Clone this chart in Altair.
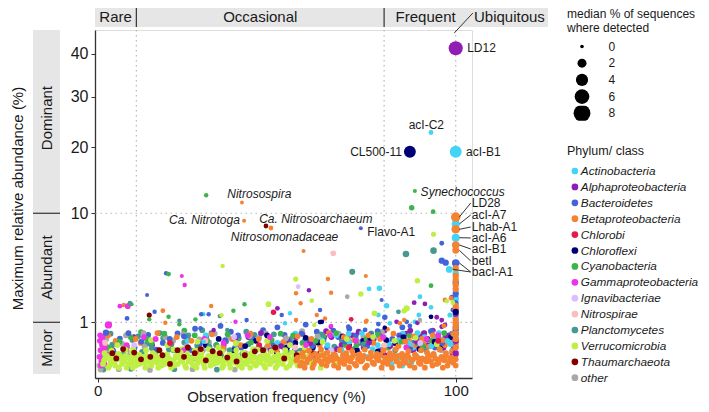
import altair as alt
import pandas as pd

FONT = "Liberation Sans"

PHYLA = ["Actinobacteria", "Alphaproteobacteria", "Bacteroidetes", "Betaproteobacteria",
         "Chlorobi", "Chloroflexi", "Cyanobacteria", "Gammaproteobacteria", "Ignavibacteriae",
         "Nitrospirae", "Planctomycetes", "Verrucomicrobia", "Thaumarchaeota", "other"]
COLORS = ["#42d4f4", "#911eb4", "#4363d8", "#f58231", "#e6194b", "#000075", "#3cb44b",
          "#f032e6", "#dcbeff", "#fabebe", "#469990", "#bfef45", "#800000", "#a9a9a9"]

# ---- individually read points: (observation frequency %, max rel. abundance %, median % seqs)
ACTINO_PTS = [(93.1, 22.7, 0.3), (100, 19.2, 3.8), (100, 8.7, 1.5), (100, 7.17, 1.5), (98.2, 4.2, 1.0),
              (75.8, 2.76, 0.3), (78.7, 2.8, 0.5), (90.0, 2.27, 0.3), (80.7, 1.77, 0.5), (93.1, 1.68, 0.3),
              (88.6, 1.02, 0.3), (78.4, 1.31, 0.3), (89.7, 1.31, 0.3), (98.4, 1.31, 0.4), (81.6, 0.96, 0.3),
              (52.3, 0.96, 0.2), (53.7, 1.39, 0.2), (29.5, 1.35, 0.2), (97.7, 0.4, 0.5), (29.6, 0.38, 0.2),
              (100, 2.1, 0.8), (100, 1.2, 0.8), (100, 0.55, 0.8), (100, 3.9, 0.8), (100, 2.6, 0.6)]
ALPHA_PTS = [(100, 41.4, 5.5), (59.0, 2.67, 0.2), (50.2, 1.63, 0.3), (88.4, 1.93, 0.3), (91.4, 1.86, 0.3),
             (94.7, 1.21, 0.3), (96.1, 1.09, 0.3), (89.3, 0.98, 0.3), (83.5, 1.02, 0.3), (96.1, 0.83, 0.3),
             (65.1, 0.83, 0.2), (97.0, 0.9, 0.3), (32.4, 0.72, 0.2), (100, 0.4, 0.8), (100, 0.15, 0.8),
             (100, 1.35, 0.6), (100, 0.85, 0.6)]
BACTERO_PTS = [(73.5, 8.2, 0.1), (96.1, 4.94, 0.8), (97.2, 4.76, 0.8), (100, 4.74, 1.3), (96.1, 6.59, 0.3),
               (13.8, 2.38, 0.1), (19.1, 3.89, 0.2), (2.3, 0.63, 0.8), (8.2, 1.16, 0.3), (15.9, 1.46, 0.2),
               (28.9, 1.34, 0.2), (31.0, 1.34, 0.2), (28.7, 0.78, 0.2), (51.4, 1.31, 0.2), (62.1, 1.55, 0.2),
               (41.6, 1.09, 0.2), (79.3, 2.08, 0.1), (80.2, 1.21, 0.5), (86.3, 1.02, 0.3), (87.2, 0.86, 0.3),
               (78.4, 0.93, 0.3), (74.7, 0.72, 0.3), (70.0, 0.83, 0.3), (98.9, 2.24, 0.3), (99.2, 1.55, 0.3),
               (100, 2.45, 0.8), (100, 0.75, 0.8), (100, 3.2, 0.8), (100, 1.9, 0.6)]
BETA_PTS = [(40.3, 11.4, 0.05), (40.9, 9.09, 0.1), (48.4, 8.24, 0.3), (100, 9.53, 2.3), (100, 8.09, 1.8),
            (100, 6.42, 1.3), (100, 5.9, 1.0), (100, 3.68, 0.8), (100, 3.38, 0.8), (100, 3.03, 0.8),
            (100, 2.75, 0.8), (100, 1.75, 0.8), (100, 0.95, 0.8), (100, 0.25, 0.8), (57.5, 5.83, 0.1),
            (64.3, 3.45, 0.2), (74.9, 3.68, 0.1), (7.3, 1.8, 0.2), (18.2, 1.51, 0.3), (18.9, 0.98, 0.2),
            (31.7, 1.75, 0.2), (55.4, 2.48, 0.2), (56.7, 1.9, 0.2), (65.2, 2.52, 0.2), (61.2, 1.31, 0.2),
            (63.5, 1.16, 0.2), (55.4, 1.09, 0.2), (85.6, 1.09, 0.2), (74.9, 1.02, 0.2), (84.4, 0.96, 0.2),
            (81.0, 0.74, 0.2), (75.1, 1.06, 0.2), (97.0, 2.08, 0.3), (98.7, 2.18, 0.3), (96.7, 0.86, 0.3),
            (100, 4.3, 0.8), (100, 1.55, 0.8), (100, 1.1, 0.8), (100, 0.8, 0.8), (100, 0.6, 0.8),
            (100, 0.45, 0.8)]
CHLOROBI_PTS = [(49.1, 1.44, 0.5), (70.8, 1.12, 0.3)]
CHLOROFLEXI_PTS = [(87.2, 19.2, 3.8), (62.1, 1.01, 0.3), (62.6, 1.02, 0.3), (93.1, 1.23, 0.3),
                   (80.2, 0.8, 0.2), (100, 1.45, 0.8)]
CYANO_PTS = [(88.6, 13.0, 0.1), (30.3, 12.4, 0.2), (87.7, 10.7, 0.5), (93.7, 10.2, 0.3), (93.1, 2.98, 0.3),
             (19.8, 3.83, 0.3), (9.4, 1.85, 0.2), (14.4, 1.12, 0.2), (19.8, 1.23, 0.2), (22.8, 0.92, 0.2),
             (27.3, 1.12, 0.2), (41.0, 1.84, 0.2), (37.9, 1.51, 0.2)]
GAMMA_PTS = [(24.3, 3.03, 0.2), (23.5, 3.68, 0.1), (6.2, 1.74, 0.3), (8.4, 1.74, 0.6), (3.0, 0.9, 1.2),
             (38.5, 1.02, 0.2), (65.2, 0.86, 0.2)]
IGNAVI_PTS = [(56.0, 2.91, 0.3)]
NITROSPIRAE_PTS = [(65.8, 5.61, 0.6)]
PLANCTO_PTS = [(71.1, 4.0, 0.7), (86.1, 5.55, 0.9), (93.8, 5.86, 0.9), (34.1, 1.26, 0.2), (22.8, 1.06, 0.2),
               (84.0, 1.46, 0.3), (9.0, 1.9, 0.3), (36.2, 0.72, 0.2)]
VERRU_PTS = [(34.9, 4.48, 0.2), (55.3, 3.45, 0.4), (47.7, 1.85, 0.6), (59.8, 2.04, 0.3), (73.5, 2.44, 0.5),
             (89.3, 3.33, 0.5), (93.8, 7.54, 0.4), (86.3, 1.63, 0.8), (85.6, 1.51, 0.5), (77.3, 1.39, 0.6),
             (97.5, 2.02, 0.3), (99.2, 1.93, 0.3), (60.5, 0.9, 0.2), (34.6, 1.3, 0.2)]
THAUM_PTS = [(47.0, 8.47, 0.3), (14.4, 1.31, 0.4)]
OTHER_PTS = [(69.7, 2.27, 0.3), (90.0, 1.09, 0.2)]

# ---- the dense low-abundance band: (observation frequency %, max rel. abundance %)
BAND_SIZE = 0.6
TEAL_BAND = [(1.2, 0.05), (2.7, 0.16), (4.1, 0.31), (6.3, 0.09), (8.2, 0.26), (9.7, 0.42), (12.4, 0.17),
             (13.8, 0.33), (16.1, 0.12), (18.3, 0.47), (19.9, 0.21), (22.6, 0.14), (24.2, 0.36), (26.4, 0.09),
             (27.8, 0.29), (30.3, 0.52), (32.1, 0.19), (34.5, 0.11), (35.9, 0.39), (38.2, 0.24), (40.4, 0.14),
             (42.1, 0.32), (43.8, 0.56), (46.3, 0.17), (48.1, 0.36), (50.5, 0.11), (51.9, 0.26), (54.2, 0.46),
             (56.6, 0.19), (60.3, 0.31), (63.7, 0.14), (68.2, 0.41), (71.8, 0.23), (76.4, 0.61), (80.1, 0.29),
             (85.7, 0.44), (91.6, 0.21), (17.3, 0.62), (29.2, 0.71), (41.5, 0.66), (1.6, 0.004), (9.3, 0.006),
             (21.4, 0.005), (33.3, 0.004)]
TEAL_BAND_2 = [(3.6, 0.6), (7.2, 0.14), (11.3, 0.52), (15.1, 0.24), (20.6, 0.32), (25.3, 0.55), (31.2, 0.27),
               (36.9, 0.2), (39.4, 0.47), (45.1, 0.28), (49.2, 0.58), (53.3, 0.16), (57.9, 0.42), (62.4, 0.58),
               (66.1, 0.27), (74.3, 0.32), (83.1, 0.2), (89.4, 0.35), (95.2, 0.48)]
GREY_BAND = [(0.5, 0.02), (1.6, 0.12), (3.1, 0.21), (5.2, 0.08), (6.8, 0.33), (9.1, 0.15), (11.2, 0.05),
             (13.1, 0.26), (15.3, 0.1), (16.8, 0.2), (19.2, 0.06), (21.1, 0.41), (23.3, 0.12), (24.8, 0.28),
             (27.1, 0.08), (29.4, 0.2), (31.1, 0.36), (33.2, 0.1), (35.3, 0.22), (37.1, 0.05), (38.9, 0.31),
             (41.2, 0.15), (43.1, 0.4), (45.3, 0.1), (47.2, 0.25), (49.1, 0.06), (51.2, 0.33), (53.1, 0.15),
             (55.2, 0.45), (58.3, 0.1), (62.1, 0.35), (66.2, 0.08), (70.1, 0.3), (74.2, 0.5), (78.1, 0.15),
             (84.2, 0.4), (90.1, 0.55), (96.1, 0.2), (0.8, 0.004), (5.9, 0.005), (14.6, 0.003), (26.5, 0.005),
             (38.3, 0.004)]
GREY_BAND_2 = [(2.4, 0.45), (7.9, 0.55), (12.8, 0.62), (18.9, 0.5), (23.9, 0.58), (28.4, 0.44), (32.7, 0.6),
               (36.6, 0.48), (42.5, 0.53), (46.9, 0.62), (52.6, 0.47), (57.1, 0.68), (61.4, 0.52), (67.3, 0.6),
               (72.6, 0.38), (79.4, 0.65), (87.6, 0.3), (93.4, 0.62), (98.3, 0.38)]
BLUE_BAND = [(2.1, 0.3), (6.2, 0.46), (10.3, 0.25), (14.1, 0.56), (18.2, 0.35), (22.3, 0.61), (25.9, 0.2),
             (30.2, 0.5), (33.1, 0.3), (37.2, 0.66), (40.1, 0.25), (43.3, 0.45), (46.2, 0.71), (49.1, 0.3),
             (52.2, 0.56), (55.1, 0.2), (58.3, 0.41), (61.2, 0.66), (64.1, 0.25), (67.2, 0.5), (70.3, 0.76),
             (73.1, 0.35), (76.2, 0.56), (79.1, 0.2), (82.3, 0.45), (85.1, 0.81), (88.2, 0.35), (91.1, 0.61),
             (94.2, 0.25), (97.1, 0.5), (100, 0.82), (100, 1.62), (100, 2.2), (27.2, 0.76), (34.3, 0.86),
             (50.2, 0.81), (58.1, 0.91)]
BLUE_BAND_2 = [(4.4, 0.18), (8.6, 0.62), (12.2, 0.38), (16.4, 0.21), (20.1, 0.45), (24.1, 0.52), (28.6, 0.33),
               (31.8, 0.62), (35.6, 0.42), (39.2, 0.55), (44.6, 0.22), (47.8, 0.5), (53.9, 0.33), (56.9, 0.6),
               (59.9, 0.28), (63.1, 0.42), (65.8, 0.7), (69.2, 0.38), (72.1, 0.55), (75.3, 0.28), (78.2, 0.68),
               (81.1, 0.35), (84.2, 0.55), (87.1, 0.22), (90.2, 0.45), (93.1, 0.68), (96.2, 0.35), (99.0, 0.6)]
PURPLE_BAND = [(35.2, 0.3), (42.1, 0.5), (48.3, 0.2), (53.1, 0.4), (57.2, 0.6), (62.1, 0.15), (65.3, 0.5),
               (68.1, 0.3), (71.2, 0.55), (74.3, 0.25), (77.1, 0.45), (80.2, 0.12), (83.1, 0.35), (86.2, 0.6),
               (88.1, 0.2), (90.3, 0.5), (92.1, 0.3), (93.6, 0.7), (95.1, 0.45), (96.6, 0.25), (98.1, 0.55),
               (99.1, 0.15), (100, 0.35), (100, 0.6), (100, 1.0), (25.1, 0.45), (15.2, 0.3), (10.1, 0.5),
               (4.2, 0.2), (60.2, 0.1), (80.1, 0.7), (85.2, 0.1)]
PURPLE_BAND_2 = [(38.4, 0.42), (45.6, 0.62), (51.2, 0.28), (55.4, 0.5), (59.3, 0.35), (63.8, 0.68), (66.9, 0.22),
                 (69.8, 0.45), (72.9, 0.66), (75.8, 0.36), (78.6, 0.55), (81.7, 0.28), (84.5, 0.48), (87.3, 0.7),
                 (89.2, 0.38), (91.2, 0.62), (94.3, 0.32), (97.3, 0.45), (99.4, 0.28)]
CYAN_BAND = [(60.1, 0.05), (64.2, 0.3), (68.1, 0.2), (72.2, 0.45), (75.1, 0.1), (78.2, 0.3), (82.1, 0.03),
             (83.6, 0.06), (85.1, 0.02), (86.6, 0.05), (88.1, 0.25), (90.2, 0.4), (92.1, 0.15), (94.2, 0.5),
             (96.1, 0.3), (97.8, 0.4), (99.1, 0.2), (100, 0.45), (100, 0.9), (100, 1.3), (45.1, 0.5),
             (50.2, 0.35), (38.1, 0.2), (30.2, 0.55), (25.1, 0.4), (55.2, 0.6), (70.1, 0.6), (85.2, 0.6)]
CYAN_BAND_2 = [(62.6, 0.42), (66.6, 0.55), (70.3, 0.38), (73.8, 0.62), (76.8, 0.22), (79.9, 0.5), (81.3, 0.32),
               (84.1, 0.42), (86.9, 0.35), (89.3, 0.62), (91.3, 0.5), (93.2, 0.28), (95.3, 0.62), (98.6, 0.32),
               (87.6, 0.04), (89.8, 0.07), (84.4, 0.09)]
NAVY_BAND = [(30.2, 0.3), (38.1, 0.2), (44.2, 0.4), (50.1, 0.15), (55.2, 0.35), (60.1, 0.25), (63.2, 0.5),
             (66.1, 0.12), (70.2, 0.3), (74.1, 0.4), (78.2, 0.18), (83.1, 0.35), (87.2, 0.25), (92.1, 0.45),
             (96.2, 0.3), (100, 0.6)]
NAVY_BAND_2 = [(33.8, 0.45), (41.2, 0.28), (47.3, 0.55), (52.9, 0.25), (58.1, 0.48), (61.6, 0.36), (68.4, 0.52),
               (72.4, 0.2), (76.1, 0.48), (80.6, 0.42), (85.4, 0.5), (89.8, 0.22), (94.1, 0.38), (98.7, 0.5)]
GREEN_BAND = [(3.1, 0.25), (9.2, 0.5), (15.1, 0.35), (21.2, 0.2), (27.1, 0.55), (33.2, 0.3), (39.1, 0.45),
              (45.2, 0.25), (51.1, 0.6), (57.2, 0.35), (63.1, 0.5), (69.2, 0.3), (75.1, 0.45), (81.2, 0.25),
              (87.1, 0.55), (93.2, 0.4), (12.1, 0.65), (24.2, 0.7)]
GREEN_BAND_2 = [(6.1, 0.38), (13.7, 0.45), (18.6, 0.6), (30.6, 0.4), (36.3, 0.58), (42.8, 0.36), (48.6, 0.42),
                (54.6, 0.55), (60.9, 0.4), (66.6, 0.62), (72.3, 0.3), (78.3, 0.58), (84.9, 0.38), (90.8, 0.28),
                (96.8, 0.62)]
MAGENTA_BAND = [(0.5, 0.1), (0.8, 0.2), (1.0, 0.05), (1.2, 0.3), (0.6, 0.4), (1.5, 0.15), (0.9, 0.02),
                (2.0, 0.25), (8.1, 0.3), (16.2, 0.45), (24.1, 0.2), (35.2, 0.35), (48.1, 0.5), (58.2, 0.3),
                (72.1, 0.4), (86.2, 0.25), (95.1, 0.55), (0.7, 0.55), (1.4, 0.5), (2.6, 0.12), (1.9, 0.03),
                (12.9, 0.5), (29.8, 0.45), (41.9, 0.55), (64.9, 0.55), (79.7, 0.5), (91.9, 0.45)]
RED_BAND = [(20.2, 0.35), (45.1, 0.3), (70.2, 0.25), (95.1, 0.4)]
PINK_BAND = [(2.1, 0.35), (30.1, 0.4), (55.2, 0.25), (80.1, 0.3)]
LAVENDER_BAND = [(10.2, 0.3), (38.1, 0.5), (65.2, 0.2), (90.1, 0.35)]
ORANGE_MIXED = [(58, 0.2), (62, 0.3), (66, 0.18), (70, 0.25), (73, 0.15), (77, 0.35), (80, 0.22), (84, 0.28),
                (87, 0.4), (89, 0.3), (91, 0.33), (92.5, 0.27), (94, 0.36), (95.5, 0.22), (97, 0.3),
                (98.5, 0.45), (100, 0.3), (100, 0.5), (100, 0.7), (40, 0.3), (35, 0.25), (28, 0.18), (20, 0.3),
                (12, 0.35), (5, 0.4), (8, 0.22), (45, 0.45), (50, 0.2), (52, 0.38)]
ORANGE_MIXED_2 = [(2.9, 0.55), (10.6, 0.45), (16.7, 0.62), (22.1, 0.5), (26.2, 0.4), (31.9, 0.58), (37.6, 0.45),
                  (42.7, 0.6), (47.6, 0.3), (55.8, 0.52), (59.7, 0.45), (64.6, 0.62), (68.7, 0.5), (71.6, 0.42),
                  (75.6, 0.55), (78.9, 0.45), (82.6, 0.6), (85.9, 0.38), (88.3, 0.52), (90.6, 0.45), (93.6, 0.55),
                  (96.4, 0.42), (99.3, 0.6)]
LIME_MIXED = [(5.5, 0.3), (9.9, 0.22), (14.9, 0.42), (19.5, 0.3), (23.6, 0.22), (27.9, 0.38), (33.7, 0.25),
              (38.6, 0.35), (43.4, 0.22), (47.3, 0.4), (53.7, 0.3), (57.8, 0.25), (62.8, 0.38), (69.6, 0.45),
              (76.9, 0.5), (82.9, 0.4), (88.8, 0.48), (94.7, 0.32)]
LIME_BAND = [(1.5, 0.03), (2.2, 0.08), (3.0, 0.01), (3.6, 0.05), (4.3, 0.10), (4.9, 0.02), (5.6, 0.07),
             (6.2, 0.12), (6.8, 0.03), (7.5, 0.06), (8.1, 0.01), (8.8, 0.09), (9.4, 0.04), (10.1, 0.11),
             (10.7, 0.02), (11.4, 0.07), (12.0, 0.05), (12.7, 0.10), (13.3, 0.01), (14.0, 0.06), (14.6, 0.03),
             (15.3, 0.09), (15.9, 0.12), (16.6, 0.04), (17.2, 0.07), (17.9, 0.02), (18.5, 0.10), (19.2, 0.05),
             (19.8, 0.08), (20.5, 0.01), (21.1, 0.06), (21.8, 0.11), (22.4, 0.03), (23.1, 0.08), (23.7, 0.05),
             (24.4, 0.02), (25.0, 0.10), (25.7, 0.07), (26.3, 0.04), (27.0, 0.12), (27.6, 0.01), (28.3, 0.06),
             (28.9, 0.09), (29.6, 0.03), (30.2, 0.07), (30.9, 0.11), (31.5, 0.02), (32.2, 0.05), (32.8, 0.09),
             (33.5, 0.04), (34.1, 0.08), (34.8, 0.01), (35.4, 0.06), (36.1, 0.10), (36.7, 0.03), (37.4, 0.07),
             (38.0, 0.05), (38.7, 0.12), (39.3, 0.02), (40.0, 0.08), (40.6, 0.04), (41.3, 0.10), (41.9, 0.06),
             (42.6, 0.01), (43.2, 0.09), (43.9, 0.03), (44.5, 0.07), (45.2, 0.05), (45.8, 0.11), (46.5, 0.02),
             (47.1, 0.06), (47.8, 0.09), (48.4, 0.04), (49.1, 0.08), (49.7, 0.01), (50.4, 0.05), (51.0, 0.10),
             (51.7, 0.03), (52.3, 0.07), (53.0, 0.12), (53.6, 0.02), (54.3, 0.06), (54.9, 0.09), (55.6, 0.04),
             (56.2, 0.08), (57.5, 0.03), (58.8, 0.06), (60.1, 0.02), (61.5, 0.09), (63.0, 0.04), (65.0, 0.07)]
LIME_BAND_2 = [(1.8, 0.06), (2.6, 0.11), (3.3, 0.02), (4.0, 0.08), (4.6, 0.04), (5.3, 0.12), (5.9, 0.01),
               (6.5, 0.09), (7.2, 0.05), (7.8, 0.11), (8.5, 0.03), (9.1, 0.07), (9.8, 0.01), (10.4, 0.06),
               (11.1, 0.10), (11.7, 0.03), (12.4, 0.08), (13.0, 0.04), (13.7, 0.11), (14.3, 0.07), (15.0, 0.02),
               (15.6, 0.05), (16.3, 0.10), (16.9, 0.01), (17.6, 0.09), (18.2, 0.05), (18.9, 0.03), (19.5, 0.11),
               (20.2, 0.07), (20.8, 0.04), (21.5, 0.02), (22.1, 0.09), (22.8, 0.12), (23.4, 0.06), (24.1, 0.10),
               (24.7, 0.01), (25.4, 0.05), (26.0, 0.08), (26.7, 0.02), (27.3, 0.09), (28.0, 0.04), (28.6, 0.11),
               (29.3, 0.07), (29.9, 0.01), (30.6, 0.05), (31.2, 0.09), (31.9, 0.12), (32.5, 0.03), (33.2, 0.07),
               (33.8, 0.10), (34.5, 0.05), (35.1, 0.02), (35.8, 0.09), (36.4, 0.06), (37.1, 0.01), (37.7, 0.11),
               (38.4, 0.04), (39.0, 0.08), (39.7, 0.06), (40.3, 0.01), (41.0, 0.12), (41.6, 0.03), (42.3, 0.07),
               (42.9, 0.05), (43.6, 0.11), (44.2, 0.02), (44.9, 0.09), (45.5, 0.04), (46.2, 0.08), (46.8, 0.01),
               (47.5, 0.11), (48.1, 0.03), (48.8, 0.06), (49.4, 0.10), (50.1, 0.02), (50.7, 0.08), (51.4, 0.05),
               (52.0, 0.12), (52.7, 0.01), (53.3, 0.09), (54.0, 0.04), (54.6, 0.07), (55.3, 0.11), (55.9, 0.02),
               (56.9, 0.07), (58.2, 0.10), (59.5, 0.04), (60.8, 0.06), (62.3, 0.01), (64.0, 0.10), (66.5, 0.03)]
LIME_BAND_3 = [(1.9, 0.15), (3.9, 0.19), (5.8, 0.14), (7.7, 0.21), (9.6, 0.16), (11.6, 0.13), (13.5, 0.2),
               (15.4, 0.15), (17.4, 0.18), (19.3, 0.13), (21.2, 0.21), (23.2, 0.16), (25.1, 0.14), (27.1, 0.19),
               (29.0, 0.15), (31.0, 0.22), (32.9, 0.14), (34.8, 0.18), (36.8, 0.13), (38.7, 0.2), (40.7, 0.16),
               (42.6, 0.14), (44.6, 0.21), (46.5, 0.15), (48.5, 0.18), (50.4, 0.13), (52.4, 0.2), (54.3, 0.16),
               (56.4, 0.14), (59.0, 0.18), (62.6, 0.15)]
MAROON_BAND = [(4.1, 0.15), (5.2, 0.08), (12.1, 0.07), (17.2, 0.2), (18.1, 0.12), (20.2, 0.03), (24.1, 0.1),
               (25.2, 0.25), (27.1, 0.15), (30.2, 0.06), (32.1, 0.18), (36.2, 0.09), (41.1, 0.12), (46.2, 0.2),
               (52.1, 0.08), (60.2, 0.15), (7.1, 0.22), (10.2, 0.16), (14.7, 0.1), (22.3, 0.2), (28.8, 0.22),
               (34.1, 0.15), (38.8, 0.05), (43.9, 0.18), (49.6, 0.25), (55.6, 0.12)]
ORANGE_BAND = [(55.5, 0.06), (56.5, 0.02), (57.4, 0.10), (58.3, 0.04), (59.2, 0.08), (60.0, 0.01), (60.9, 0.06),
               (61.8, 0.11), (62.6, 0.03), (63.5, 0.07), (64.3, 0.05), (65.2, 0.10), (66.0, 0.02), (66.8, 0.08),
               (67.7, 0.04), (68.5, 0.12), (69.3, 0.06), (70.2, 0.01), (71.0, 0.09), (71.8, 0.03), (72.7, 0.07),
               (73.5, 0.05), (74.3, 0.11), (75.2, 0.02), (76.0, 0.08), (76.8, 0.04), (77.7, 0.10), (78.5, 0.06),
               (79.3, 0.01), (80.2, 0.09), (81.0, 0.03), (81.8, 0.07), (82.7, 0.12), (83.5, 0.05), (84.3, 0.02),
               (85.2, 0.08), (86.0, 0.04), (86.8, 0.10), (87.7, 0.06), (88.5, 0.01), (89.3, 0.09), (90.2, 0.03),
               (91.0, 0.07), (91.8, 0.05), (92.7, 0.11), (93.5, 0.02), (94.3, 0.08), (95.2, 0.04), (96.0, 0.10),
               (96.8, 0.06), (97.7, 0.02), (98.5, 0.09), (99.3, 0.04), (100, 0.07), (100, 0.02), (100, 0.12)]
ORANGE_BAND_2 = [(55.9, 0.09), (56.9, 0.04), (57.8, 0.01), (58.7, 0.07), (59.6, 0.11), (60.4, 0.03),
                 (61.3, 0.08), (62.2, 0.05), (63.0, 0.12), (63.9, 0.02), (64.7, 0.09), (65.6, 0.06), (66.4, 0.11),
                 (67.2, 0.01), (68.1, 0.07), (68.9, 0.03), (69.7, 0.10), (70.6, 0.05), (71.4, 0.12), (72.2, 0.02),
                 (73.1, 0.09), (73.9, 0.06), (74.7, 0.01), (75.6, 0.08), (76.4, 0.11), (77.2, 0.03), (78.1, 0.07),
                 (78.9, 0.12), (79.7, 0.04), (80.6, 0.06), (81.4, 0.10), (82.2, 0.01), (83.1, 0.08), (83.9, 0.11),
                 (84.7, 0.03), (85.6, 0.06), (86.4, 0.12), (87.2, 0.02), (88.1, 0.07), (88.9, 0.11), (89.7, 0.04),
                 (90.6, 0.08), (91.4, 0.01), (92.2, 0.09), (93.1, 0.05), (93.9, 0.12), (94.7, 0.03), (95.6, 0.07),
                 (96.4, 0.01), (97.2, 0.11), (98.1, 0.05), (98.9, 0.08), (99.7, 0.12)]
ORANGE_BAND_3 = [(57.2, 0.15), (59.0, 0.19), (60.7, 0.14), (62.4, 0.21), (64.1, 0.16), (65.9, 0.13), (67.6, 0.2),
                 (69.4, 0.15), (71.1, 0.18), (72.9, 0.13), (74.6, 0.21), (76.3, 0.16), (78.0, 0.14), (79.8, 0.19),
                 (81.6, 0.15), (83.3, 0.22), (85.0, 0.14), (86.8, 0.18), (88.6, 0.13), (90.3, 0.2), (92.0, 0.16),
                 (93.8, 0.14), (95.5, 0.21), (97.3, 0.15), (99.0, 0.18)]

# ---- labels
LABELS = ["LD12", "acI-C2", "CL500-11", "acI-B1", "Synechococcus", "Nitrosospira", "Ca. Nitrotoga",
          "Ca. Nitrosoarchaeum", "Nitrosomonadaceae", "Flavo-A1", "LD28", "acI-A7", "Lhab-A1", "acI-A6",
          "acI-B1", "betI", "bacI-A1"]
LABEL_X = [103.2, 91.8, 85.0, 102.9, 90.2, 36.2, 39.7, 45.1, 37.2, 75.3, 104.5, 104.5, 104.5, 104.5, 104.5,
           104.5, 104.5]
LABEL_Y = [41.4, 24.1, 19.2, 19.2, 12.9, 12.57, 9.18, 9.3, 7.28, 7.82, 11.33, 9.79, 8.35, 7.14, 6.02, 4.91, 3.99]
LABEL_ALIGN = ["left", "center", "right", "left", "left", "left", "right", "left", "left", "left", "left",
               "left", "left", "left", "left", "left", "left"]
LABEL_ITALIC = [0, 0, 0, 0, 1, 1, 1, 1, 1, 0, 0, 0, 0, 0, 0, 0, 0]

LEADER_X0 = [101.0, 101.0, 101.0, 101.0, 101.0, 101.0, 101.0, 99.2, 99.6]
LEADER_Y0 = [9.53, 8.7, 8.09, 7.17, 6.42, 5.9, 4.74, 4.2, 45.4]
LEADER_X1 = [104.2, 104.2, 104.2, 104.2, 104.2, 104.2, 104.2, 104.2, 104.8]
LEADER_Y1 = [11.33, 9.79, 8.35, 7.14, 6.02, 4.91, 3.99, 3.99, 50.9]

FREQ_CLASSES = ["Rare", "Occasional", "Frequent", "Ubiquitous"]
FREQ_CLASS_X = [5.0, 45.4, 91.6, 115.0]
FREQ_BOUNDS = [10.8, 80]
ABUND_CLASSES = ["Dominant", "Abundant", "Minor"]
ABUND_CLASS_Y = [25.5, 4.35, 0.24]
ABUND_BOUNDS = [1, 10]
VLINES = [10.8, 80, 100]
HLINES = [1, 10]

# ---- build table
rows = []


def add(phylum, pts, size=None):
    for p in pts:
        if size is None:
            x, y, s = p
        else:
            x, y = p
            s = size
        rows.append({"phylum": phylum, "freq": x, "abund": y, "sz": s, "ord": len(rows)})


add("Planctomycetes", TEAL_BAND, BAND_SIZE)
add("other", GREY_BAND, BAND_SIZE)
add("Bacteroidetes", BLUE_BAND, BAND_SIZE)
add("Alphaproteobacteria", PURPLE_BAND, BAND_SIZE)
add("Actinobacteria", CYAN_BAND, BAND_SIZE)
add("Chloroflexi", NAVY_BAND, BAND_SIZE)
add("Cyanobacteria", GREEN_BAND, BAND_SIZE)
add("Betaproteobacteria", ORANGE_MIXED, BAND_SIZE)
add("Planctomycetes", TEAL_BAND_2, BAND_SIZE)
add("other", GREY_BAND_2, BAND_SIZE)
add("Bacteroidetes", BLUE_BAND_2, BAND_SIZE)
add("Alphaproteobacteria", PURPLE_BAND_2, BAND_SIZE)
add("Actinobacteria", CYAN_BAND_2, BAND_SIZE)
add("Chloroflexi", NAVY_BAND_2, BAND_SIZE)
add("Cyanobacteria", GREEN_BAND_2, BAND_SIZE)
add("Betaproteobacteria", ORANGE_MIXED_2, BAND_SIZE)
add("Verrucomicrobia", LIME_MIXED, BAND_SIZE)
add("Gammaproteobacteria", MAGENTA_BAND, BAND_SIZE)
add("Chlorobi", RED_BAND, BAND_SIZE)
add("Nitrospirae", PINK_BAND, BAND_SIZE)
add("Ignavibacteriae", LAVENDER_BAND, BAND_SIZE)
add("Verrucomicrobia", LIME_BAND_3, BAND_SIZE)
add("Verrucomicrobia", LIME_BAND, BAND_SIZE)
add("Verrucomicrobia", LIME_BAND_2, BAND_SIZE)
add("Thaumarchaeota", MAROON_BAND, BAND_SIZE)
add("Betaproteobacteria", ORANGE_BAND_3, BAND_SIZE)
add("Betaproteobacteria", ORANGE_BAND, BAND_SIZE)
add("Betaproteobacteria", ORANGE_BAND_2, BAND_SIZE)
add("Actinobacteria", ACTINO_PTS)
add("Alphaproteobacteria", ALPHA_PTS)
add("Bacteroidetes", BACTERO_PTS)
add("Betaproteobacteria", BETA_PTS)
add("Chlorobi", CHLOROBI_PTS)
add("Chloroflexi", CHLOROFLEXI_PTS)
add("Cyanobacteria", CYANO_PTS)
add("Gammaproteobacteria", GAMMA_PTS)
add("Ignavibacteriae", IGNAVI_PTS)
add("Nitrospirae", NITROSPIRAE_PTS)
add("Planctomycetes", PLANCTO_PTS)
add("Verrucomicrobia", VERRU_PTS)
add("Thaumarchaeota", THAUM_PTS)
add("other", OTHER_PTS)
df = pd.DataFrame(rows)

labels_df = pd.DataFrame({"text": LABELS, "lx": LABEL_X, "ly": LABEL_Y, "align": LABEL_ALIGN,
                          "italic": LABEL_ITALIC})
leaders_df = pd.DataFrame({"x0": LEADER_X0, "y0": LEADER_Y0, "x1": LEADER_X1, "y1": LEADER_Y1})

# ---- scales & axes
XS = alt.Scale(domain=[-0.75, 104.55], nice=False, zero=False)
YS = alt.Scale(type="sqrt", domain=[-0.011, 46.2], nice=False, zero=False)
XAX = alt.Axis(values=[0, 100], format="d", title="Observation frequency (%)", grid=False,
               labelFontSize=15, titleFontSize=15, titleFontWeight="normal", tickSize=4, labelPadding=1,
               domainColor="#333333", tickColor="#333333", labelColor="#1a1a1a", titleColor="#1a1a1a",
               domainWidth=1.3, titleX=181, titleY=26, titleBaseline="bottom")
YAX = alt.Axis(values=[1, 10, 20, 30, 40], format="d", title="Maximum relative abundance (%)", grid=False,
               labelFontSize=16, titleFontSize=15, titleFontWeight="normal", tickSize=4, labelPadding=3,
               domainColor="#333333", tickColor="#333333", labelColor="#1a1a1a", titleColor="#1a1a1a",
               domainWidth=1.3, titleX=-78, titleY=168, titleBaseline="middle", titleAngle=270)


def X(f):
    return alt.X(f, type="quantitative", scale=XS, axis=XAX)


def Y(f):
    return alt.Y(f, type="quantitative", scale=YS, axis=YAX)


dotted_v = alt.Chart(pd.DataFrame({"v": VLINES})).mark_rule(
    color="#b8b8b8", strokeDash=[1.5, 3.5], strokeWidth=1.2).encode(x=X("v"))
dotted_h = alt.Chart(pd.DataFrame({"v": HLINES})).mark_rule(
    color="#b8b8b8", strokeDash=[1.5, 3.5], strokeWidth=1.2).encode(y=Y("v"))

points = alt.Chart(df).mark_circle(opacity=1, strokeWidth=0).encode(
    x=X("freq"),
    y=Y("abund"),
    color=alt.Color("phylum:N", scale=alt.Scale(domain=PHYLA, range=COLORS),
                    legend=alt.Legend(title="Phylum/ class", orient="none", legendX=472, legendY=115,
                                      labelFontStyle="italic", labelFontSize=11.8, titleFontSize=12.5,
                                      titleFontWeight="normal", symbolSize=45, symbolType="circle",
                                      clipHeight=13, rowPadding=1.9, symbolOffset=2, labelOffset=0,
                                      titlePadding=7, padding=0, symbolStrokeWidth=0, symbolOpacity=1,
                                      labelColor="#1a1a1a", titleColor="#1a1a1a")),
    size=alt.Size("sz:Q", scale=alt.Scale(domain=[0, 8], range=[13, 283]),
                  legend=alt.Legend(title=["median % of sequences", "where detected"], orient="none",
                                    legendX=472, legendY=-21, values=[0, 2, 4, 6, 8],
                                    symbolFillColor="black", symbolStrokeColor="black",
                                    symbolStrokeWidth=0, symbolType="circle", symbolOpacity=1,
                                    titleFontSize=12, titleFontWeight="normal", labelFontSize=12,
                                    titleLineHeight=14, clipHeight=15, rowPadding=1.7, symbolOffset=6.5,
                                    labelOffset=18, titlePadding=4, padding=0,
                                    labelColor="#1a1a1a", titleColor="#1a1a1a")),
    order=alt.Order("ord:Q"),
)

leaders = alt.Chart(leaders_df).mark_rule(color="#333333", strokeWidth=1).encode(
    x=X("x0"), y=Y("y0"), x2="x1", y2="y1")

label_layers = []
for al in ["left", "right", "center"]:
    for it in [0, 1]:
        sub = labels_df[(labels_df["align"] == al) & (labels_df["italic"] == it)]
        if len(sub) == 0:
            continue
        label_layers.append(
            alt.Chart(sub).mark_text(align=al, baseline="middle", fontSize=12,
                                     fontStyle="italic" if it else "normal", color="#1a1a1a").encode(
                x=X("lx"), y=Y("ly"), text="text:N"))

# top strip
top_strip = alt.Chart(pd.DataFrame({"a": [0]})).mark_rect(color="#e6e6e6").encode(
    x=alt.value(0), x2=alt.value(453), y=alt.value(-22), y2=alt.value(-3))
top_sep = alt.Chart(pd.DataFrame({"v": FREQ_BOUNDS})).mark_rule(color="#333333", strokeWidth=1.2).encode(
    x=X("v"), y=alt.value(-22), y2=alt.value(-3))
top_text = alt.Chart(pd.DataFrame({"t": FREQ_CLASSES, "v": FREQ_CLASS_X})).mark_text(
    fontSize=15, baseline="middle", color="#1a1a1a").encode(x=X("v"), y=alt.value(-13), text="t:N")

# left strip
left_strip = alt.Chart(pd.DataFrame({"a": [0]})).mark_rect(color="#e6e6e6").encode(
    x=alt.value(-62), x2=alt.value(-35), y=alt.value(0), y2=alt.value(344))
left_sep = alt.Chart(pd.DataFrame({"v": ABUND_BOUNDS})).mark_rule(color="#333333", strokeWidth=1.2).encode(
    y=Y("v"), x=alt.value(-62), x2=alt.value(-35))
left_text = alt.Chart(pd.DataFrame({"t": ABUND_CLASSES, "v": ABUND_CLASS_Y})).mark_text(
    fontSize=15, baseline="middle", align="center", angle=270, color="#1a1a1a").encode(
    y=Y("v"), x=alt.value(-48.5), text="t:N")

chart = alt.layer(
    top_strip, left_strip, dotted_v, dotted_h, points, leaders, *label_layers,
    top_sep, top_text, left_sep, left_text
).properties(
    width=377, height=348,
    padding={"left": 87, "top": 22, "right": 229, "bottom": 26},
    autosize=alt.AutoSizeParams(type="none"),
).configure_view(stroke=None).configure(font=FONT)

chart.save("out.html", embed_options={"renderer": "svg", "actions": False})
